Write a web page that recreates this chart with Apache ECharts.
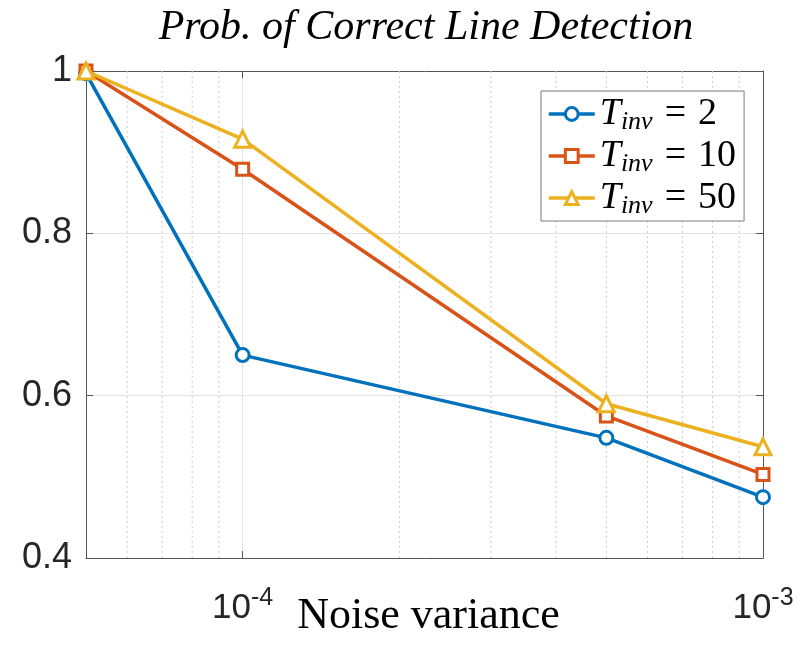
<!DOCTYPE html>
<html>
<head>
<meta charset="utf-8">
<script src="https://cdn.jsdelivr.net/npm/echarts@6/dist/echarts.min.js"></script>
<style>html,body{margin:0;padding:0;background:#fff}#c{width:811px;height:652px}</style>
</head>
<body>
<div id="c"></div>
<script>
// ---- data ----
const noiseVariance = [5e-5, 1e-4, 5e-4, 1e-3];
const probTinv2  = [0.997, 0.650, 0.548, 0.475];
const probTinv10 = [1.000, 0.879, 0.575, 0.503];
const probTinv50 = [1.000, 0.916, 0.590, 0.537];
const seriesLabels = ['2', '10', '50'];
const minorGridX = [6e-5, 7e-5, 8e-5, 9e-5, 2e-4, 3e-4, 4e-4, 5e-4, 6e-4, 7e-4, 8e-4, 9e-4];
const yTicks = {min: 0.4, max: 1.0, step: 0.2};
const xRange = {min: 5e-5, max: 1e-3};

const colors = ['#0072BD', '#D95319', '#EDB120'];
const symbols = ['circle', 'rect', 'triangle'];
const symbolSizes = [13, 12, 16];
const allData = [probTinv2, probTinv10, probTinv50];

const serif = 'Liberation Serif';
const sans = 'Liberation Sans';

const series = [{
  name: 'minor-grid',
  type: 'custom',
  silent: true,
  animation: false,
  clip: false,
  data: minorGridX.map(x => [x]),
  encode: {x: 0},
  renderItem: function (params, api) {
    const x = api.value(0);
    const p1 = api.coord([x, yTicks.min]);
    const p2 = api.coord([x, yTicks.max]);
    return {
      type: 'line',
      shape: {x1: p1[0], y1: p1[1], x2: p2[0], y2: p2[1]},
      style: {stroke: '#cccccc', lineWidth: 1, lineDash: [2, 3]}
    };
  },
  z: 1
}].concat(allData.map((vals, i) => ({
  name: seriesLabels[i],
  type: 'line',
  data: vals.map((v, k) => [noiseVariance[k], v]),
  symbol: symbols[i],
  symbolSize: symbolSizes[i],
  showSymbol: true,
  lineStyle: {width: 3.5, color: colors[i]},
  itemStyle: {color: '#ffffff', borderColor: colors[i], borderWidth: 3},
  z: 10 + i,
  animation: false
})));

function expLabel(v) {
  const e = Math.log10(v);
  if (Math.abs(e - Math.round(e)) < 1e-6) {
    return '{b|10}{e|' + Math.round(e) + '}';
  }
  return '';
}

const chart = echarts.init(document.getElementById('c'), null, {renderer: 'canvas'});
chart.setOption({
  animation: false,
  backgroundColor: '#fff',
  title: {
    text: 'Prob. of Correct Line Detection',
    left: 421, top: 2, textAlign: 'center',
    textStyle: {fontFamily: serif, fontStyle: 'italic', fontWeight: 'normal', fontSize: 42, color: '#000'}
  },
  grid: {left: 86, right: 48, top: 71, bottom: 94, outerBoundsMode: 'none', containLabel: false},
  legend: {
    orient: 'vertical',
    left: 541, top: 91,
    backgroundColor: '#fff',
    borderColor: '#7a7a7a', borderWidth: 1,
    padding: [4, 8, 2, 6],
    itemWidth: 46, itemHeight: 16, itemGap: 2,
    data: seriesLabels,
    lineStyle: {width: 3.5},
    itemStyle: {borderWidth: 3},
    formatter: n => '{t|T}{s|inv}{q|=}{n|' + n + '}',
    textStyle: {
      color: '#000',
      rich: {
        t: {fontFamily: serif, fontStyle: 'italic', fontSize: 38, lineHeight: 42, verticalAlign: 'middle'},
        s: {fontFamily: serif, fontStyle: 'italic', fontSize: 26, lineHeight: 22, verticalAlign: 'bottom'},
        q: {fontFamily: serif, fontSize: 38, lineHeight: 42, verticalAlign: 'middle', padding: [0, 12, 0, 12]},
        n: {fontFamily: serif, fontSize: 38, lineHeight: 42, verticalAlign: 'middle'}
      }
    }
  },
  xAxis: [{
    type: 'log', logBase: 10, min: xRange.min, max: xRange.max,
    axisLine: {show: true, lineStyle: {color: '#555', width: 1}},
    axisTick: {show: true, inside: true, length: 7, lineStyle: {color: '#555'}},
    splitLine: {show: true, lineStyle: {color: '#e3e3e3', width: 1}},
    axisLabel: {
      margin: 28,
      formatter: expLabel,
      showMinLabel: true,
      rich: {
        b: {fontFamily: sans, fontSize: 35, color: '#262626', lineHeight: 44, verticalAlign: 'middle'},
        e: {fontFamily: sans, fontSize: 25, color: '#262626', lineHeight: 4, verticalAlign: 'top'}
      }
    },
    name: 'Noise variance', nameLocation: 'middle', nameGap: 36, nameMoveOverlap: false,
    nameTextStyle: {fontFamily: serif, fontSize: 44, color: '#000', padding: [0, 0, 0, 8]}
  }, {
    type: 'log', logBase: 10, min: xRange.min, max: xRange.max, position: 'top',
    axisLine: {show: true, lineStyle: {color: '#555', width: 1}},
    axisTick: {show: true, inside: true, length: 7, lineStyle: {color: '#555'}},
    axisLabel: {show: false}, splitLine: {show: false}
  }],
  yAxis: [{
    type: 'value', min: yTicks.min, max: yTicks.max, interval: yTicks.step,
    axisLine: {show: true, lineStyle: {color: '#555', width: 1}},
    axisTick: {show: true, inside: true, length: 7, lineStyle: {color: '#555'}},
    splitLine: {show: true, lineStyle: {color: '#e3e3e3', width: 1}},
    axisLabel: {margin: 14, fontFamily: sans, fontSize: 36, color: '#262626'}
  }, {
    type: 'value', min: yTicks.min, max: yTicks.max, interval: yTicks.step, position: 'right',
    axisLine: {show: true, lineStyle: {color: '#555', width: 1}},
    axisTick: {show: true, inside: true, length: 7, lineStyle: {color: '#555'}},
    axisLabel: {show: false}, splitLine: {show: false}
  }],
  series: series
});
</script>
</body>
</html>
